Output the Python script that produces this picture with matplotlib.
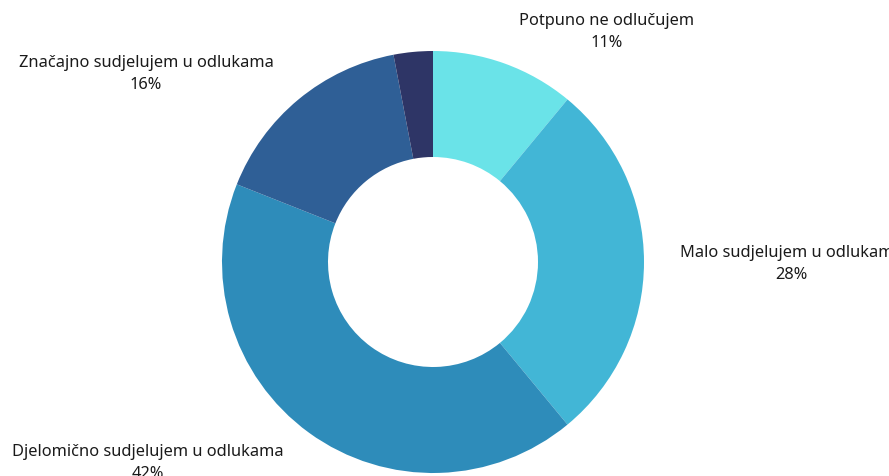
import matplotlib.pyplot as plt

# data
labels = ['Potpuno ne odlučujem', 'Malo sudjelujem u odlukama',
          'Djelomično sudjelujem u odlukama', 'Značajno sudjelujem u odlukama', '']
shares = [11, 28, 42, 16, 3]
colors = ['#6AE3E8', '#42B6D6', '#2E8CBA', '#2F5F96', '#2E3566']

plt.rcParams['font.family'] = ['Noto Sans', 'DejaVu Sans']

fig = plt.figure(figsize=(8.89, 4.77), dpi=100)
ax = fig.add_axes([0, 0, 1, 1])

# donut, pixel coordinates (y up)
ax.pie(shares, colors=colors, startangle=90, counterclock=False,
       center=(433, 214), radius=211, wedgeprops=dict(width=106, linewidth=0))
ax.set_xlim(0, 889)
ax.set_ylim(0, 477)
ax.set_aspect('equal')
ax.axis('off')

# labels
txt = dict(fontsize=11.8, color='#1a1a1a', linespacing=1.45, va='center')
ax.text(607, 445, labels[0] + '\n11%', ha='center', multialignment='center', **txt)
ax.text(680, 213, labels[1] + '\n28%', ha='left', multialignment='center', **txt)
ax.text(148, 14, labels[2] + '\n42%', ha='center', multialignment='center', **txt)
ax.text(146, 403, labels[3] + '\n16%', ha='center', multialignment='center', **txt)

fig.savefig('out.png', dpi=100)
